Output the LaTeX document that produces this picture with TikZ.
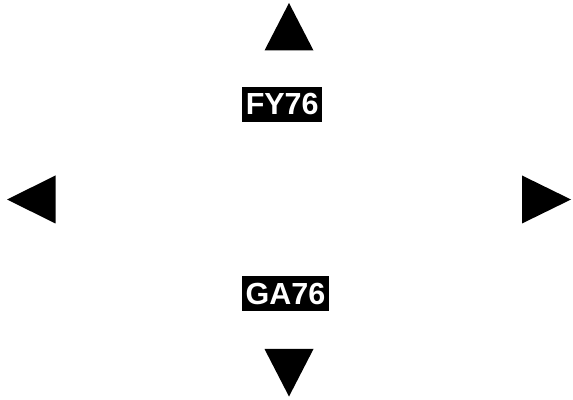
\documentclass[tikz,border=0pt]{standalone}
\usepackage{fontspec}
\setmainfont{Liberation Sans}
\begin{document}
\begin{tikzpicture}[x=1pt,y=1pt,
  tag/.style={fill=black,text=white,font=\fontsize{30.5}{30.5}\selectfont\bfseries,
    inner xsep=3.5pt,inner ysep=0pt,minimum height=35pt,text height=21.5pt,text depth=0pt},
  arrowtri/.style={fill=black}]
\useasboundingbox (0,0) rectangle (573,399);
\fill[arrowtri] (289,396) -- (313.5,348.5) -- (264.5,348.5) -- cycle;
\fill[arrowtri] (289,2.5) -- (313.5,50) -- (264.5,50) -- cycle;
\fill[arrowtri] (7,199.5) -- (55.5,223.5) -- (55.5,175.5) -- cycle;
\fill[arrowtri] (571,199.5) -- (522,223.5) -- (522,175.5) -- cycle;
\node[tag] (fy) at (282.2,294.8) {FY76};
\node[tag] (ga) at (285.5,105.6) {GA76};
\end{tikzpicture}
\end{document}
